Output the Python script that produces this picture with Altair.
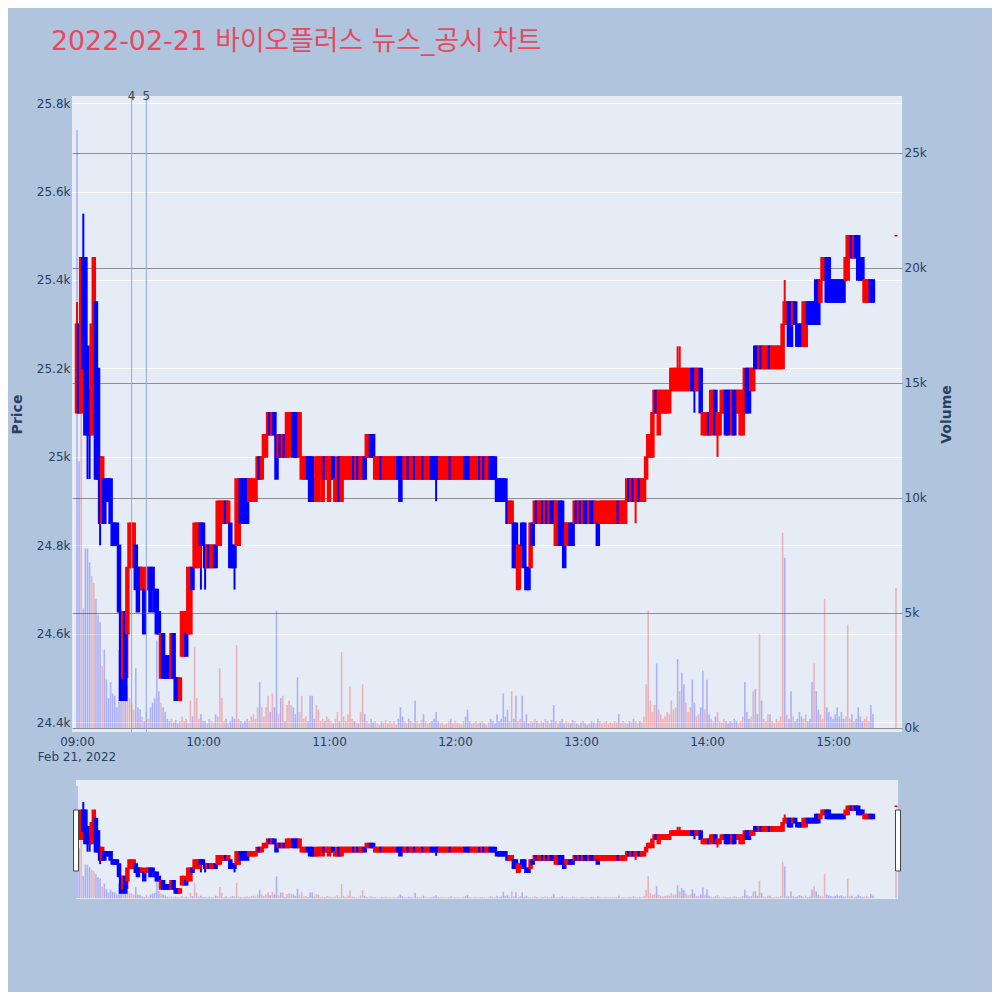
import altair as alt
import pandas as pd

# ---------------- data ----------------
TITLE = "2022-02-21 바이오플러스 뉴스_공시 차트"
SESSION_START = "2022-02-21 09:00"
DATE_LABEL = "Feb 21, 2022"

# minute offsets from 09:00 : continuous session 09:00-15:19, closing auction 15:30
minute_offsets = list(range(0, 380)) + [390]

opens = [
    25100, 25300, 25100, 25450, 25450, 25250, 25150, 25050, 25150, 25350,
    25200, 25000, 24850, 24950, 24950, 24950, 24950, 24850, 24850, 24850,
    24800, 24650, 24500, 24650, 24600, 24750, 24750, 24800, 24800, 24750,
    24750, 24700, 24700, 24700, 24700, 24750, 24750, 24700, 24700, 24650,
    24500, 24600, 24550, 24550, 24550, 24500, 24600, 24500, 24500, 24450,
    24550, 24550, 24600, 24600, 24600, 24750, 24750, 24750, 24750, 24850,
    24850, 24800, 24750, 24800, 24750, 24750, 24800, 24800, 24800, 24850,
    24850, 24900, 24850, 24850, 24800, 24800, 24800, 24800, 24950, 24950,
    24950, 24950, 24900, 24900, 24900, 24900, 24950, 25000, 24950, 25000,
    25000, 25050, 25100, 25050, 25100, 25050, 25000, 25050, 25000, 25050,
    25000, 25000, 25050, 25100, 25100, 25100, 25000, 24950, 24950, 24950,
    25000, 25000, 25000, 24950, 24900, 24900, 24950, 24900, 25000, 24950,
    24900, 24950, 25000, 24900, 24900, 25000, 24900, 24950, 24950, 24950,
    24950, 24950, 25000, 24950, 25000, 24950, 24950, 25000, 25000, 25000,
    25050, 25050, 24950, 24950, 24950, 25000, 24950, 24950, 24950, 24950,
    24950, 24950, 24950, 25000, 25000, 25000, 24950, 24950, 25000, 24950,
    24950, 25000, 24950, 24950, 24950, 25000, 24950, 24950, 24950, 25000,
    25000, 25000, 25000, 24950, 24950, 24950, 24950, 24950, 25000, 24950,
    24950, 24950, 24950, 24950, 24950, 25000, 25000, 25000, 24950, 24950,
    24950, 24950, 25000, 24950, 25000, 24950, 24950, 25000, 25000, 25000,
    24950, 24950, 24950, 24950, 24950, 24900, 24850, 24850, 24850, 24850,
    24700, 24750, 24850, 24850, 24750, 24750, 24750, 24850, 24850, 24900,
    24850, 24850, 24900, 24850, 24900, 24850, 24900, 24900, 24800, 24800,
    24900, 24900, 24850, 24800, 24800, 24850, 24850, 24850, 24900, 24850,
    24900, 24850, 24900, 24900, 24850, 24900, 24900, 24850, 24850, 24850,
    24850, 24850, 24850, 24850, 24850, 24850, 24850, 24850, 24900, 24850,
    24850, 24850, 24900, 24950, 24900, 24950, 24900, 24900, 24950, 24900,
    24900, 24950, 25000, 25000, 25000, 25100, 25150, 25050, 25100, 25100,
    25100, 25100, 25100, 25150, 25150, 25150, 25150, 25150, 25150, 25150,
    25150, 25150, 25150, 25200, 25200, 25150, 25150, 25200, 25050, 25050,
    25050, 25100, 25050, 25100, 25150, 25050, 25050, 25100, 25100, 25150,
    25150, 25150, 25050, 25150, 25150, 25100, 25050, 25050, 25100, 25200,
    25200, 25150, 25150, 25250, 25250, 25200, 25250, 25200, 25200, 25200,
    25250, 25200, 25200, 25200, 25200, 25200, 25200, 25300, 25300, 25350,
    25350, 25300, 25350, 25300, 25300, 25300, 25250, 25250, 25350, 25350,
    25350, 25350, 25400, 25400, 25350, 25400, 25400, 25450, 25450, 25400,
    25400, 25400, 25400, 25400, 25400, 25400, 25400, 25400, 25450, 25500,
    25450, 25500, 25500, 25450, 25450, 25350, 25350, 25350, 25400, 25400,
    25500,
]

closes = [
    25300, 25100, 25450, 25200, 25050, 25050, 25050, 25300, 25450, 24950,
    24950, 24850, 25000, 24850, 24900, 24900, 24850, 24800, 24800, 24800,
    24650, 24450, 24650, 24450, 24750, 24850, 24850, 24850, 24700, 24650,
    24700, 24750, 24600, 24750, 24750, 24650, 24700, 24650, 24600, 24600,
    24600, 24500, 24500, 24500, 24500, 24600, 24500, 24450, 24450, 24500,
    24650, 24650, 24550, 24750, 24750, 24700, 24850, 24850, 24850, 24800,
    24800, 24750, 24800, 24750, 24800, 24800, 24750, 24900, 24900, 24900,
    24900, 24850, 24900, 24750, 24750, 24750, 24950, 24950, 24850, 24850,
    24900, 24850, 24950, 24950, 24950, 24950, 25000, 24950, 25000, 25050,
    25050, 25100, 25050, 25100, 25050, 24950, 25050, 25000, 25050, 25000,
    25100, 25100, 25100, 25000, 25000, 25000, 25100, 25000, 25000, 25000,
    24950, 24900, 24900, 24900, 25000, 25000, 25000, 25000, 24950, 25000,
    25000, 25000, 24950, 24950, 25000, 24900, 25000, 25000, 25000, 25000,
    25000, 25000, 24950, 25000, 24950, 25000, 25000, 24950, 25050, 25050,
    25000, 25000, 25000, 25000, 25000, 24950, 25000, 25000, 25000, 25000,
    25000, 25000, 25000, 24950, 24900, 24950, 25000, 25000, 24950, 25000,
    25000, 24950, 25000, 25000, 25000, 24950, 25000, 25000, 25000, 24950,
    24950, 24950, 24950, 25000, 25000, 25000, 25000, 25000, 24950, 25000,
    25000, 25000, 25000, 25000, 25000, 24950, 24950, 24950, 25000, 25000,
    25000, 25000, 24950, 25000, 24950, 25000, 25000, 24950, 24950, 24950,
    24900, 24900, 24900, 24900, 24900, 24850, 24900, 24900, 24750, 24750,
    24800, 24800, 24800, 24750, 24700, 24700, 24850, 24800, 24900, 24850,
    24900, 24900, 24850, 24900, 24850, 24900, 24850, 24850, 24900, 24900,
    24800, 24800, 24750, 24850, 24850, 24800, 24800, 24900, 24850, 24900,
    24850, 24900, 24850, 24850, 24900, 24850, 24850, 24900, 24800, 24900,
    24900, 24900, 24900, 24900, 24900, 24900, 24900, 24900, 24850, 24900,
    24900, 24900, 24950, 24900, 24950, 24900, 24950, 24950, 24900, 24950,
    24950, 25000, 25050, 25050, 25100, 25150, 25100, 25150, 25150, 25150,
    25150, 25150, 25150, 25200, 25200, 25200, 25200, 25200, 25200, 25200,
    25200, 25200, 25200, 25150, 25150, 25200, 25200, 25100, 25100, 25100,
    25100, 25050, 25150, 25150, 25050, 25100, 25100, 25150, 25150, 25050,
    25050, 25100, 25150, 25050, 25100, 25150, 25150, 25150, 25200, 25100,
    25100, 25200, 25200, 25200, 25200, 25250, 25200, 25250, 25250, 25250,
    25200, 25250, 25250, 25250, 25250, 25250, 25300, 25350, 25350, 25250,
    25250, 25350, 25300, 25250, 25250, 25250, 25350, 25350, 25300, 25300,
    25300, 25300, 25300, 25300, 25400, 25450, 25450, 25350, 25350, 25350,
    25350, 25350, 25350, 25350, 25350, 25350, 25450, 25500, 25500, 25450,
    25500, 25450, 25400, 25400, 25400, 25400, 25400, 25400, 25350, 25350,
    25500,
]

# wicks that reach beyond the candle body (minute offset -> price)
high_wicks = {0: 25350, 3: 25550, 286: 25250, 287: 25250, 337: 25400}
low_wicks = {5: 24950, 6: 24950, 11: 24800, 24: 24500, 27: 24750, 59: 24700,
             61: 24700, 75: 24700, 171: 24900, 211: 24700, 266: 24850,
             294: 25100, 305: 25000}

volumes = [
    26000, 11600, 14000, 5200, 7800, 7800, 7200, 6600, 6300, 5600,
    4900, 4600, 2700, 3400, 2100, 1300, 2000, 1500, 1400, 900,
    3400, 5200, 2100, 2600, 1800, 1300, 1100, 800, 2600, 900,
    800, 500, 300, 700, 400, 900, 1100, 1300, 3800, 1600,
    1100, 900, 700, 400, 300, 400, 250, 350, 200, 300,
    500, 300, 400, 200, 1200, 500, 3500, 1300, 400, 600,
    300, 300, 200, 400, 300, 250, 600, 500, 2600, 1300,
    300, 400, 200, 300, 500, 400, 3600, 400, 300, 200,
    300, 400, 300, 500, 600, 400, 900, 2000, 900, 500,
    900, 1400, 700, 1500, 900, 5100, 600, 1300, 1400, 300,
    1000, 1200, 1000, 900, 600, 2200, 700, 1400, 400, 500,
    300, 1400, 1400, 400, 1000, 800, 300, 400, 300, 500,
    400, 300, 200, 400, 700, 300, 3300, 500, 300, 600,
    1800, 400, 300, 250, 200, 700, 1900, 600, 300, 200,
    400, 250, 300, 200, 150, 300, 250, 350, 200, 300,
    200, 300, 150, 400, 900, 500, 300, 200, 400, 300,
    250, 1200, 300, 200, 350, 600, 300, 200, 250, 300,
    400, 700, 300, 200, 250, 150, 200, 300, 400, 200,
    300, 250, 200, 150, 300, 500, 800, 300, 200, 250,
    300, 200, 250, 300, 200, 150, 250, 400, 300, 200,
    600, 300, 400, 1500, 500, 800, 300, 1600, 400, 1400,
    300, 400, 1400, 300, 600, 200, 300, 250, 400, 300,
    200, 300, 250, 400, 300, 200, 350, 1000, 300, 200,
    300, 400, 200, 300, 250, 200, 350, 300, 200, 150,
    250, 300, 200, 150, 200, 300, 250, 200, 400, 300,
    200, 250, 300, 200, 250, 200, 300, 250, 600, 200,
    300, 250, 200, 300, 250, 400, 300, 200, 300, 250,
    500, 1900, 5100, 1200, 700, 1000, 2800, 800, 600, 400,
    500, 700, 600, 1200, 800, 900, 3000, 1600, 2400, 1900,
    1100, 700, 900, 2100, 1100, 500, 600, 900, 2500, 800,
    2100, 600, 400, 300, 500, 700, 300, 250, 400, 300,
    200, 300, 250, 400, 300, 200, 300, 500, 2000, 700,
    400, 500, 1600, 1700, 600, 4100, 1200, 400, 300, 600,
    600, 300, 200, 400, 300, 500, 8500, 7400, 600, 400,
    1600, 500, 300, 400, 700, 500, 400, 600, 300, 400,
    2000, 2800, 1600, 800, 600, 400, 5600, 900, 700, 500,
    400, 600, 900, 500, 700, 400, 500, 4500, 400, 600,
    300, 400, 900, 500, 300, 400, 500, 300, 1000, 600,
    6100,
]

# volume bars whose colour differs from their candle's colour (minute -> direction)
volume_dir_override = {0: "down", 276: "down", 286: "down", 288: "down", 289: "down",
                       298: "down", 300: "down", 318: "down", 337: "down", 351: "up"}

event_labels = ["4", "5"]
event_times = ["2022-02-21T09:26:00", "2022-02-21T09:33:00"]

price_ticks = [24400, 24600, 24800, 25000, 25200, 25400, 25600, 25800]
volume_ticks = [0, 5000, 10000, 15000, 20000, 25000]
hour_ticks = [9, 10, 11, 12, 13, 14, 15]

assert len(opens) == len(closes) == len(volumes) == len(minute_offsets)

# ---------------- table ----------------
start = pd.Timestamp(SESSION_START)
df = pd.DataFrame({"m": minute_offsets, "open": opens, "close": closes, "volume": volumes})
df["t"] = [(start + pd.Timedelta(minutes=int(m))).strftime("%Y-%m-%dT%H:%M:%S") for m in df["m"]]
df["high"] = [max(o, c, high_wicks.get(m, 0)) for m, o, c in zip(df["m"], df["open"], df["close"])]
df["low"] = [min(o, c, low_wicks.get(m, 10 ** 9)) for m, o, c in zip(df["m"], df["open"], df["close"])]
df["dir"] = ["up" if c >= o else "down" for o, c in zip(df["open"], df["close"])]
df["vdir"] = [volume_dir_override.get(m, d) for m, d in zip(df["m"], df["dir"])]

events = pd.DataFrame({"t": event_times, "label": event_labels})

# ---------------- styling ----------------
W, H = 830, 636
S_TOP, S_BOT = 684, 803  # range-slider strip (pixels, relative to plot origin)
FONT = "DejaVu Sans, Verdana, Noto Sans CJK KR"
INK = "#2a3f5f"
PLOT_BG = "#E5ECF6"


def dt(h, mi=0, s=0):
    return alt.DateTime(year=2022, month=2, date=21, hours=h, minutes=mi, seconds=s)


x_scale = alt.Scale(domain=[dt(8, 57, 37), dt(15, 32, 51)], nice=False, padding=0)
x_axis = alt.Axis(values=[dt(h) for h in hour_ticks], format="%H:%M", title=None,
                  ticks=False, domain=False, grid=False, labelPadding=4,
                  labelFont=FONT, labelFontSize=12, labelColor=INK, labelFlush=False)
X = alt.X("t:T", scale=x_scale, axis=x_axis)

price_dom = [24378, 25816]
vol_dom = [-174, 27478]

price_axis = alt.Axis(orient="left", values=price_ticks, format=".3~s", title="Price",
                      grid=True, gridColor="white", gridWidth=1, ticks=False, domain=False,
                      labelPadding=2, labelFont=FONT, labelFontSize=12, labelColor=INK,
                      titleFont=FONT, titleFontSize=14, titleFontWeight="bold", titleColor=INK,
                      titleX=-55, titleY=H / 2, titleAngle=270, titleAlign="center",
                      titleBaseline="middle")
vol_axis = alt.Axis(orient="right", values=volume_ticks, format="~s", title="Volume",
                    grid=True, gridColor="#8f8f8f", gridWidth=1, ticks=False, domain=False,
                    labelPadding=2, labelFont=FONT, labelFontSize=12, labelColor=INK,
                    titleFont=FONT, titleFontSize=14, titleFontWeight="bold", titleColor=INK,
                    titleX=44, titleY=H / 2, titleAngle=270, titleAlign="center",
                    titleBaseline="middle")

dir_scale = alt.Scale(domain=["up", "down"], range=["#FF0000", "#0000FF"])
COLOR = alt.Color("dir:N", scale=dir_scale, legend=None)
VCOLOR = alt.Color("vdir:N", scale=dir_scale, legend=None)
STROKE = alt.Stroke("dir:N", scale=dir_scale, legend=None)

base = alt.Chart(df)


def candle_layers(price_scale, vol_scale, p_axis, v_axis):
    vol = base.mark_bar(width=1.6, opacity=0.25).encode(
        x=X, y=alt.Y("volume:Q", scale=vol_scale, axis=v_axis), y2=alt.datum(0), color=VCOLOR)
    wick = base.mark_rule(strokeWidth=2).encode(
        x=X, y=alt.Y("low:Q", scale=price_scale, axis=p_axis), y2="high:Q", color=COLOR)
    body = base.mark_bar(width=3, strokeWidth=1.5).encode(
        x=X, y=alt.Y("open:Q", scale=price_scale, axis=None), y2="close:Q",
        color=COLOR, stroke=STROKE)
    return [vol, wick, body]


main_layers = candle_layers(
    alt.Scale(domain=price_dom, nice=False, zero=False),
    alt.Scale(domain=vol_dom, nice=False, zero=False),
    price_axis, vol_axis)

slider_layers = candle_layers(
    alt.Scale(domain=price_dom, nice=False, zero=False, range=[S_BOT, S_TOP]),
    alt.Scale(domain=vol_dom, nice=False, zero=False, range=[S_BOT, S_TOP]),
    None, None)

one = pd.DataFrame({"k": [0]})

event_rules = alt.Chart(events).mark_rule(color="#8FA6EC", strokeWidth=1).encode(
    x=X, y=alt.value(0), y2=alt.value(H))
event_text = alt.Chart(events).mark_text(font=FONT, fontSize=12, color="#444444",
                                         baseline="alphabetic").encode(
    x=X, y=alt.value(4), text="label:N")

title = alt.Chart(pd.DataFrame({"title": [TITLE]})).mark_text(
    font=FONT, fontSize=26.8, color="#E8495F", align="left", baseline="alphabetic").encode(
    x=alt.value(-21), y=alt.value(-46), text="title:N")

date_text = alt.Chart(pd.DataFrame({"d": [DATE_LABEL]})).mark_text(
    font=FONT, fontSize=12, color=INK, align="center", baseline="middle").encode(
    x=alt.value(5), y=alt.value(H + 25), text="d:N")

slider_bg = alt.Chart(one).mark_rect(color=PLOT_BG).encode(
    x=alt.value(4), x2=alt.value(826), y=alt.value(S_TOP), y2=alt.value(S_BOT))
handle_l = alt.Chart(one).mark_rect(fill="white", stroke="#444444", strokeWidth=1).encode(
    x=alt.value(1.5), x2=alt.value(6.5), y=alt.value(714), y2=alt.value(775))
handle_r = alt.Chart(one).mark_rect(fill="white", stroke="#444444", strokeWidth=1).encode(
    x=alt.value(823.5), x2=alt.value(828.5), y=alt.value(714), y2=alt.value(775))

chart = alt.layer(
    *main_layers, event_rules, event_text, title, date_text,
    slider_bg, *slider_layers, handle_l, handle_r
).resolve_scale(y="independent").properties(
    width=W, height=H,
    background="#B0C4DE",
    padding={"left": 64, "top": 88, "right": 90, "bottom": 260},
    autosize=alt.AutoSizeParams(type="none"),
).configure_view(fill=PLOT_BG, stroke=None)

chart.save("out.html", embed_options={"renderer": "svg", "actions": False})
